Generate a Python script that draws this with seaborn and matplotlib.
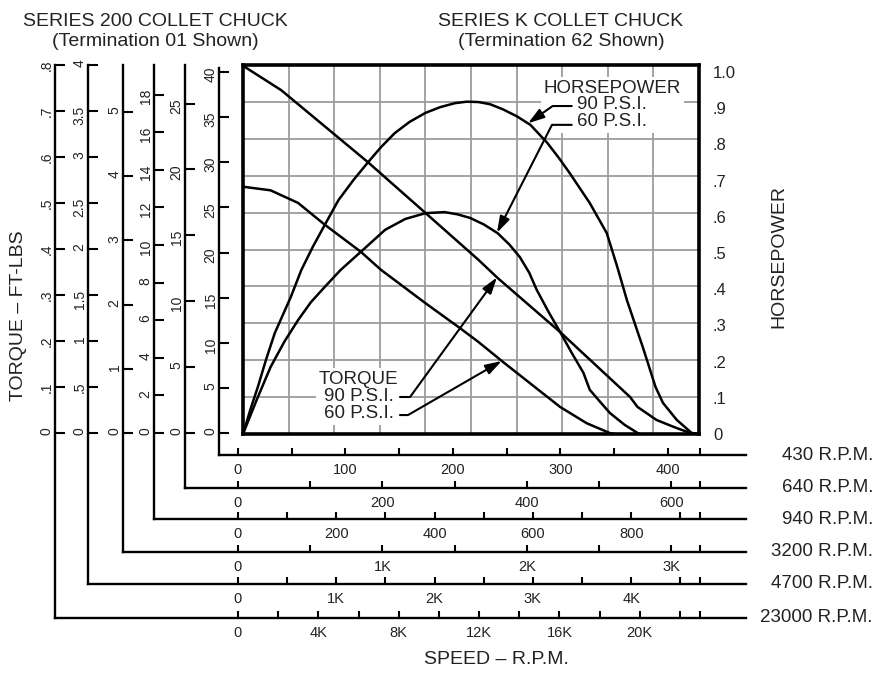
import numpy as np
import pandas as pd
import seaborn as sns
import matplotlib
matplotlib.use('Agg')
import matplotlib.pyplot as plt

# ---- curve data (speed on the 430 R.P.M. scale) ----
rpm_t90 = [0, 36, 118, 172, 222, 240, 299, 365, 372, 390, 408, 422, 430]
torque_t90 = [40.8, 38.1, 30.1, 24.5, 19.3, 17.3, 11.3, 4.1, 3.0, 1.55, 0.7, 0.1, 0]
rpm_t60 = [0, 26, 52, 77, 111, 130, 172, 205, 222, 245, 299, 324, 346, 351]
torque_t60 = [27.4, 27.0, 25.6, 23.2, 20.2, 18.2, 14.5, 11.7, 10.2, 8.0, 3.0, 1.2, 0.1, 0]
rpm_hp90 = [0, 7, 14, 22, 30, 45, 55, 66, 77, 90, 104, 118, 130, 143, 157, 172, 186,
            200, 211, 222, 233, 245, 258, 271, 287, 298, 308, 327, 343, 353, 362, 377,
            389, 396, 409, 423, 430]
hp_90 = [0, .068, .13, .208, .279, .378, .453, .518, .577, .646, .701, .751, .792, .831,
         .862, .887, .903, .914, .918, .917, .911, .897, .878, .854, .804, .762, .721,
         .638, .555, .461, .37, .24, .13, .086, .039, .003, 0]
rpm_hp60 = [0, 13, 26, 39, 52, 64, 77, 92, 111, 134, 153, 172, 190, 202, 214, 227, 240,
            251, 261, 270, 277, 288, 299, 310, 321, 327, 337, 346, 360, 372, 374]
hp_60 = [0, .095, .185, .255, .315, .364, .406, .453, .503, .564, .594, .61, .613, .607,
         .597, .579, .555, .524, .489, .445, .398, .338, .282, .224, .169, .122, .088,
         .058, .025, .003, 0]

hp_ticks = [0, .1, .2, .3, .4, .5, .6, .7, .8, .9, 1.0]
hp_labels = ['0', '.1', '.2', '.3', '.4', '.5', '.6', '.7', '.8', '.9', '1.0']

# ---- speed scales (one per line) ----
speed_max = [430, 640, 940, 3200, 4700, 23000]
speed_major = [[0, 100, 200, 300, 400], [0, 200, 400, 600], [0, 200, 400, 600, 800],
               [0, 1000, 2000, 3000], [0, 1000, 2000, 3000, 4000],
               [0, 4000, 8000, 12000, 16000, 20000]]
speed_major_labels = [['0', '100', '200', '300', '400'], ['0', '200', '400', '600'],
                      ['0', '200', '400', '600', '800'], ['0', '1K', '2K', '3K'],
                      ['0', '1K', '2K', '3K', '4K'], ['0', '4K', '8K', '12K', '16K', '20K']]
speed_step = [50, 100, 100, 500, 500, 2000]

# ---- torque scales paired with each speed line ----
torque_ticks = [[0, 5, 10, 15, 20, 25, 30, 35, 40], [0, 5, 10, 15, 20, 25],
                [0, 2, 4, 6, 8, 10, 12, 14, 16, 18], [0, 1, 2, 3, 4, 5],
                [0, .5, 1, 1.5, 2, 2.5, 3, 3.5, 4], [0, .1, .2, .3, .4, .5, .6, .7, .8]]
torque_labels = [['0', '5', '10', '15', '20', '25', '30', '35', '40'],
                 ['0', '5', '10', '15', '20', '25'],
                 ['0', '2', '4', '6', '8', '10', '12', '14', '16', '18'],
                 ['0', '1', '2', '3', '4', '5'],
                 ['0', '.5', '1', '1.5', '2', '2.5', '3', '3.5', '4'],
                 ['0', '.1', '.2', '.3', '.4', '.5', '.6', '.7', '.8']]
torque_ref = [40, 27.4, 19.2, 5.62, 3.92, 0.784]   # value at the "40" row

# ---- layout (pixels) ----
W, H = 882, 677
scale_x = [219, 185, 154, 123, 88, 55]
scale_y = [455, 488, 519, 552, 584, 618]
scale_top = [68, 65, 65, 65, 65, 65]
SCALE_RIGHT = 746
SPEED_PX0, SPEED_PX1 = 238, 700
ZERO_PX, REF_PX = 433, 72
BOX = (243, 65, 699, 434)
INK = '#222222'


def px_box(x0, y0, x1, y1):
    return [x0 / W, 1 - y1 / H, (x1 - x0) / W, (y1 - y0) / H]


sns.set_theme(style='white')
plt.rcParams['font.family'] = ['Liberation Sans', 'DejaVu Sans']
plt.rcParams['text.color'] = INK

fig = plt.figure(figsize=(W / 100, H / 100), dpi=100)

# L-shaped torque / speed scales
for i in range(6):
    smax = speed_max[i]
    a = fig.add_axes(px_box(scale_x[i], scale_top[i], SCALE_RIGHT, scale_y[i]))
    a.set_facecolor('none')
    k = smax / (SPEED_PX1 - SPEED_PX0)
    a.set_xlim((scale_x[i] - SPEED_PX0) * k, (SCALE_RIGHT - SPEED_PX0) * k)
    u = torque_ref[i] / (ZERO_PX - REF_PX)
    a.set_ylim((ZERO_PX - scale_y[i]) * u, (ZERO_PX - scale_top[i]) * u)
    for s in ['top', 'right']:
        a.spines[s].set_visible(False)
    for s in ['left', 'bottom']:
        a.spines[s].set_color('black')
        a.spines[s].set_linewidth(1.7)
    a.set_xticks(speed_major[i], speed_major_labels[i])
    minor = [v for v in np.arange(0, smax, speed_step[i]) if v not in speed_major[i]] + [smax]
    a.set_xticks(minor, minor=True)
    a.tick_params(axis='x', which='both', direction='in', length=5, width=1.5,
                  color='black', labelcolor=INK, labelsize=10.5, pad=6,
                  bottom=True)
    a.set_yticks(torque_ticks[i], torque_labels[i])
    a.tick_params(axis='y', direction='in', length=7, width=1.5, color='black',
                  labelcolor=INK, labelsize=10, pad=1, labelrotation=90, left=True)
    a.annotate(f'{smax} R.P.M.', xy=(1, 0), xycoords='axes fraction',
               xytext=(127, 0), textcoords='offset pixels', ha='right', va='center',
               fontsize=13.5, color=INK)

# main chart box
ax = fig.add_axes(px_box(*BOX))
ax.set_xlim(0, 430)
ax.set_ylim(0, (ZERO_PX + 1 - BOX[1]) * 40 / (ZERO_PX - REF_PX))
ax.set_xticks(np.linspace(0, 430, 11))
ax.set_yticks(np.linspace(0, ax.get_ylim()[1], 11))
ax.tick_params(length=0, labelbottom=False, labelleft=False)
ax.grid(True, color='#9c9c9c', lw=1.3)
for s in ax.spines.values():
    s.set_color('black')
    s.set_linewidth(2.6)
    s.set_zorder(5)

sns.lineplot(x=rpm_t90, y=torque_t90, ax=ax, color='black', lw=1.8, sort=False)
sns.lineplot(x=rpm_t60, y=torque_t60, ax=ax, color='black', lw=1.8, sort=False)

ax2 = ax.twinx()
ax2.set_ylim(0, (BOX[3] - BOX[1]) / 362)
sns.lineplot(x=rpm_hp90, y=hp_90, ax=ax2, color='black', lw=1.8, sort=False)
sns.lineplot(x=rpm_hp60, y=hp_60, ax=ax2, color='black', lw=1.8, sort=False)
ax2.set_yticks(hp_ticks, hp_labels)
ax2.tick_params(axis='y', length=0, pad=10, labelsize=12, labelcolor=INK)
for s in ax2.spines.values():
    s.set_visible(False)
ax2.set_xlim(0, 430)

# curve call-outs
arrow = dict(arrowstyle='-|>,head_length=0.7,head_width=0.22', color='black',
             lw=1.5, shrinkA=0, shrinkB=0, mutation_scale=14)
ax.text(109, 4.15, 'TORQUE\n90 P.S.I.\n60 P.S.I.', ha='center', va='center',
        multialignment='center', linespacing=0.98, fontsize=13.5, zorder=3,
        bbox=dict(fc='white', ec='none', pad=2))
ax.annotate('', xy=(239.5, np.interp(239.5, rpm_t90, torque_t90)), xytext=(148, 4.1),
            arrowprops=dict(connectionstyle='angle,angleA=0,angleB=54,rad=0', **arrow))
ax.annotate('', xy=(244, np.interp(244, rpm_t60, torque_t60)), xytext=(148, 2.1),
            arrowprops=dict(connectionstyle='angle,angleA=0,angleB=30,rad=0', **arrow))

ax2.text(348, 0.909, 'HORSEPOWER\n90 P.S.I.\n60 P.S.I.', ha='center', va='center',
         multialignment='center', linespacing=0.98, fontsize=13.5, zorder=3,
         bbox=dict(fc='white', ec='none', pad=2))
ax2.annotate('', xy=(268.7, np.interp(268.7, rpm_hp90, hp_90)), xytext=(310, 0.906),
             arrowprops=dict(connectionstyle='angle,angleA=0,angleB=35,rad=0', **arrow))
ax2.annotate('', xy=(239.5, np.interp(239.5, rpm_hp60, hp_60)), xytext=(310, 0.854),
             arrowprops=dict(connectionstyle='angle,angleA=0,angleB=63,rad=0', **arrow))

# titles and axis names
fig.text(155 / W, 1 - 22 / H, 'SERIES 200 COLLET CHUCK', ha='center', va='center', fontsize=14)
fig.text(155 / W, 1 - 42 / H, '(Termination 01 Shown)', ha='center', va='center', fontsize=14)
fig.text(561 / W, 1 - 22 / H, 'SERIES K COLLET CHUCK', ha='center', va='center', fontsize=14)
fig.text(561 / W, 1 - 42 / H, '(Termination 62 Shown)', ha='center', va='center', fontsize=14)
fig.text(19 / W, 1 - 316 / H, 'TORQUE \u2013 FT-LBS', rotation=90, ha='center', va='center', fontsize=14)
fig.text(779 / W, 1 - 256 / H, 'HORSEPOWER', rotation=90, ha='center', va='center', fontsize=14)
fig.text(496 / W, 1 - 660 / H, 'SPEED \u2013 R.P.M.', ha='center', va='center', fontsize=14)

fig.savefig('out.png', dpi=100, facecolor='white')
